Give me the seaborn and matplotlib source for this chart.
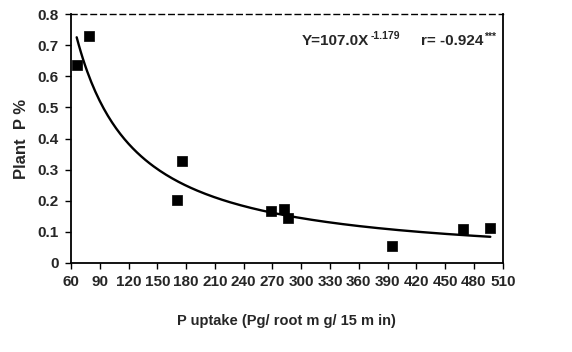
import numpy as np
import pandas as pd
import matplotlib
matplotlib.use("Agg")
import matplotlib.pyplot as plt
import seaborn as sns

# Data
p_uptake = [66, 79, 171, 175.5, 268, 282, 286, 395, 469, 497]
plant_p = [0.635, 0.728, 0.203, 0.328, 0.167, 0.175, 0.145, 0.055, 0.11, 0.113]
x_ticks = list(range(60, 511, 30))
y_ticks = [0, 0.1, 0.2, 0.3, 0.4, 0.5, 0.6, 0.7, 0.8]
y_tick_labels = ["0", "0.1", "0.2", "0.3", "0.4", "0.5", "0.6", "0.7", "0.8"]
eq_base = "Y=107.0X"
eq_exp = "-1.179"
r_base = "r= -0.924"
r_exp = "***"

sns.set_style("white")
plt.rcParams["font.family"] = ["Liberation Sans", "DejaVu Sans"]
plt.rcParams["font.weight"] = "bold"

df = pd.DataFrame({"x": p_uptake, "y": plant_p})

fig = plt.figure(figsize=(5.72, 3.52), dpi=100)
ax = fig.add_axes([0.124, 0.253, 0.755, 0.707])

# Power trend line fitted to the data (log-log least squares)
b, log_a = np.polyfit(np.log(df["x"]), np.log(df["y"]), 1)
xs = np.linspace(min(p_uptake), max(p_uptake), 200)
fit = pd.DataFrame({"x": xs, "y": np.exp(log_a) * xs ** b})
sns.lineplot(data=fit, x="x", y="y", ax=ax, color="black", linewidth=1.7)

sns.scatterplot(data=df, x="x", y="y", ax=ax, marker="s", s=45,
                color="black", edgecolor="black", linewidth=0.5, zorder=3)

ax.set_xlim(60, 510)
ax.set_ylim(0, 0.8)
ax.set_xticks(x_ticks)
ax.set_xticklabels([str(t) for t in x_ticks], fontsize=11, fontweight="bold")
ax.set_yticks(y_ticks)
ax.set_yticklabels(y_tick_labels, fontsize=11, fontweight="bold")
ax.tick_params(axis="both", direction="out", length=4, width=1, color="black",
               bottom=True, left=True, pad=5)

ax.set_xlabel("P uptake (Pg/ root m g/ 15 m in)", fontsize=10.5,
              fontweight="bold", labelpad=18)
ax.set_ylabel("Plant  P %", fontsize=12, fontweight="bold", labelpad=6)

for side in ["left", "bottom", "right"]:
    ax.spines[side].set_color("black")
    ax.spines[side].set_linewidth(1.3)
ax.spines["top"].set_color("black")
ax.spines["top"].set_linewidth(1.0)
ax.spines["top"].set_linestyle((0, (4, 3)))

t1 = ax.text(0.535, 0.89, eq_base, transform=ax.transAxes, fontsize=11,
             fontweight="bold", ha="left", va="center")
ax.annotate(eq_exp, xy=(1, 1), xycoords=t1, xytext=(1, -5),
            textcoords="offset points", fontsize=7.5, fontweight="bold",
            ha="left", va="bottom")
t2 = ax.text(0.81, 0.89, r_base, transform=ax.transAxes, fontsize=11,
             fontweight="bold", ha="left", va="center")
ax.annotate(r_exp, xy=(1, 1), xycoords=t2, xytext=(1, -5),
            textcoords="offset points", fontsize=7.5, fontweight="bold",
            ha="left", va="bottom")

fig.savefig("out.png", dpi=100)
